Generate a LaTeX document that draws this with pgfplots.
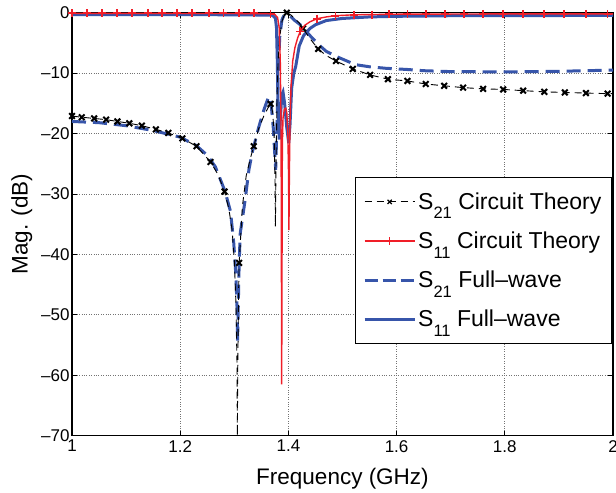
\documentclass[border=0pt]{standalone}
\usepackage{fontspec}
\setmainfont{Liberation Sans}
\usepackage{pgfplots}
\pgfplotsset{compat=1.18}
\definecolor{fwblue}{RGB}{55,85,170}
\definecolor{ctred}{RGB}{240,30,40}
\newcommand\sub[1]{\raisebox{-9.5pt}{\fontsize{16.5}{16.5}\selectfont #1}}
\begin{document}
\begin{tikzpicture}
\begin{axis}[
  width=541pt, height=423pt, scale only axis,
  xmin=1, xmax=2, ymin=-70, ymax=0,
  xtick={1,1.2,1.4,1.6,1.8,2}, xticklabels={1,1.2,1.4,1.6,1.8,2},
  ytick={-70,-60,-50,-40,-30,-20,-10,0},
  yticklabels={\textendash70,\textendash60,\textendash50,\textendash40,\textendash30,\textendash20,\textendash10,0},
  tick label style={font=\fontsize{17}{17}\selectfont},
  xticklabel style={yshift=-1pt},
  yticklabel style={xshift=1pt},
  label style={font=\fontsize{22.5}{22.5}\selectfont},
  xlabel={Frequency (GHz)}, ylabel={Mag. (dB)},
  xlabel style={yshift=-9pt},
  ylabel style={yshift=2pt},
  grid=major, major grid style={dotted, black!55, line width=0.7pt},
  tick align=inside, major tick length=5pt,
  axis line style={line width=1.1pt},
  every tick/.style={black, line width=0.8pt},
  clip mode=individual,
  legend style={at={(0.998,0.612)}, anchor=north east, font=\fontsize{23}{23}\selectfont,
    draw=black, line width=1pt, inner xsep=8pt, inner ysep=13.5pt, row sep=17pt},
  legend cell align=left,
  legend image code/.code={\draw[mark repeat=2,mark phase=2,#1] plot coordinates {(0pt,0pt) (25pt,0pt) (50pt,0pt)};},
]
% S21 full-wave
\addplot[fwblue, line width=3pt, dash pattern=on 14pt off 7pt, forget plot] coordinates {
(1.0,-18.0) (1.05,-18.2) (1.1,-18.7) (1.15,-19.5) (1.2,-20.6) (1.23,-22.0) (1.25,-23.6) (1.265,-25.5)
(1.283,-29.6) (1.293,-32.9) (1.299,-38.1) (1.303,-43.6) (1.305,-48.6) (1.306,-54.5) (1.307,-50)
(1.309,-41.4) (1.311,-36.5) (1.320,-31) (1.327,-26) (1.333,-23.2) (1.345,-19) (1.355,-16)
(1.3635,-13.9) (1.368,-15) (1.372,-19) (1.3765,-26) (1.379,-18) (1.381,-10) (1.384,-4)
(1.388,-1.2) (1.392,-0.4) (1.397,-0.3) (1.405,-0.7) (1.412,-1.3) (1.422,-2.0) (1.44,-3.8) (1.456,-5.3)
(1.47,-6.4) (1.49,-7.3) (1.524,-8.6) (1.55,-8.95) (1.58,-9.2) (1.62,-9.4) (1.65,-9.6) (1.7,-9.75)
(1.8,-9.8) (1.9,-9.7) (2.0,-9.5)};
% S11 full-wave
\addplot[fwblue, line width=3pt, forget plot] coordinates {
(1.0,-0.3) (1.2,-0.3) (1.37,-0.4) (1.376,-0.9) (1.378,-2.5) (1.3795,-8) (1.381,-16) (1.383,-21)
(1.3855,-17) (1.388,-13.5) (1.390,-13.1) (1.393,-15) (1.397,-19) (1.4006,-21.6) (1.403,-18.5)
(1.406,-12.5) (1.41,-10) (1.4135,-8.9) (1.42,-5.5) (1.428,-3.8) (1.44,-2.6) (1.45,-2.0) (1.47,-1.3)
(1.5,-0.95) (1.55,-0.7) (1.6,-0.6) (1.7,-0.5) (2.0,-0.45)};
% S21 circuit theory line
\addplot[black, line width=0.9pt, dash pattern=on 7pt off 5pt, forget plot] coordinates {
(1.0,-17.1) (1.018,-17.3) (1.041,-17.5) (1.063,-17.7) (1.084,-18.0) (1.106,-18.3) (1.129,-18.7)
(1.155,-19.3) (1.178,-19.9) (1.204,-20.8) (1.23,-22.1) (1.256,-24.7) (1.27,-26.8) (1.282,-29.6)
(1.29,-32.5) (1.296,-36) (1.300,-41) (1.303,-48) (1.305,-58) (1.3056,-70) (1.3065,-58) (1.308,-46)
(1.309,-41.4) (1.315,-32) (1.322,-27) (1.330,-24) (1.336,-22.1) (1.345,-19.2) (1.355,-17)
(1.362,-15.8) (1.367,-15.1) (1.371,-16.5) (1.3735,-20) (1.375,-26) (1.376,-35.4) (1.377,-26)
(1.379,-14) (1.381,-8) (1.384,-4) (1.388,-1.5) (1.392,-0.4) (1.397,0) (1.405,-0.4) (1.412,-1.0)
(1.42,-1.7) (1.427,-2.6) (1.44,-4.3) (1.455,-6.0) (1.47,-7.1) (1.488,-8.0) (1.519,-9.3) (1.551,-10.3)
(1.584,-11.0) (1.62,-11.3) (1.654,-11.8) (1.688,-12.1) (1.723,-12.4) (1.76,-12.6) (1.797,-12.7)
(1.834,-12.9) (1.873,-13.1) (1.911,-13.2) (1.95,-13.3) (1.99,-13.4) (2.0,-13.4)};
% S21 circuit theory marks
\addplot[black, only marks, mark=x, mark size=4pt, mark options={line width=2pt}, forget plot] coordinates {
(1.0,-17.1) (1.018,-17.3) (1.041,-17.5) (1.063,-17.7) (1.084,-18.0) (1.106,-18.3) (1.129,-18.7)
(1.155,-19.3) (1.178,-19.9) (1.204,-20.8) (1.23,-22.1) (1.256,-24.7) (1.282,-29.6) (1.309,-41.4)
(1.336,-22.1) (1.367,-15.1) (1.397,0) (1.427,-2.6) (1.455,-6.0) (1.488,-8.0) (1.519,-9.3)
(1.551,-10.3) (1.584,-11.0) (1.62,-11.3) (1.654,-11.8) (1.688,-12.1) (1.723,-12.4) (1.76,-12.6)
(1.797,-12.7) (1.834,-12.9) (1.873,-13.1) (1.911,-13.2) (1.95,-13.3) (1.99,-13.4)};
% S11 circuit theory line
\addplot[ctred, line width=1.4pt, forget plot] coordinates {
(1.0,-0.1) (1.36,-0.15) (1.375,-0.3) (1.380,-0.8) (1.383,-2.5) (1.385,-8) (1.3865,-20) (1.3876,-61.5)
(1.3888,-22) (1.390,-17.5) (1.3925,-16) (1.395,-15.8) (1.397,-16.5) (1.399,-20) (1.4003,-27)
(1.401,-36) (1.4018,-27) (1.403,-18) (1.405,-12) (1.408,-8) (1.412,-5.8) (1.417,-4.2) (1.422,-3.1)
(1.43,-2.1) (1.44,-1.5) (1.453,-1.0) (1.47,-0.7) (1.487,-0.5) (1.52,-0.35) (1.6,-0.25) (1.8,-0.2) (2.0,-0.2)};
% S11 circuit theory marks
\addplot[ctred, only marks, mark=+, mark size=4pt, mark options={line width=1.8pt}, forget plot] coordinates {
(1.0,-0.1) (1.028,-0.1) (1.056,-0.1) (1.083,-0.1) (1.111,-0.1) (1.14,-0.1) (1.166,-0.1) (1.194,-0.1)
(1.222,-0.1) (1.253,-0.1) (1.28,-0.1) (1.308,-0.1) (1.336,-0.1) (1.367,-0.15) (1.422,-3.1) (1.453,-1.0)
(1.487,-0.5) (1.521,-0.35) (1.555,-0.3) (1.586,-0.28) (1.62,-0.25) (1.654,-0.24) (1.689,-0.23)
(1.725,-0.22) (1.76,-0.21) (1.797,-0.2) (1.834,-0.2) (1.873,-0.2) (1.91,-0.2) (1.95,-0.2) (1.99,-0.2)};
\addlegendimage{black, line width=0.9pt, dash pattern=on 7pt off 5pt, mark=x, mark size=3pt, mark options={solid, line width=1.2pt}}
\addlegendentry{S\sub{21} Circuit Theory}
\addlegendimage{ctred, line width=1.2pt, mark=+, mark size=4pt, mark options={line width=1.4pt}}
\addlegendentry{S\sub{11} Circuit Theory}
\addlegendimage{fwblue, line width=3pt, dash pattern=on 13pt off 5pt}
\addlegendentry{S\sub{21} Full\textendash wave}
\addlegendimage{fwblue, line width=3pt}
\addlegendentry{S\sub{11} Full\textendash wave}
\end{axis}
\pgfresetboundingbox
\path[use as bounding box] ([xshift=-72pt,yshift=-57pt]current axis.south west) rectangle ([xshift=3pt,yshift=12.7pt]current axis.north east);
\end{tikzpicture}
\end{document}
